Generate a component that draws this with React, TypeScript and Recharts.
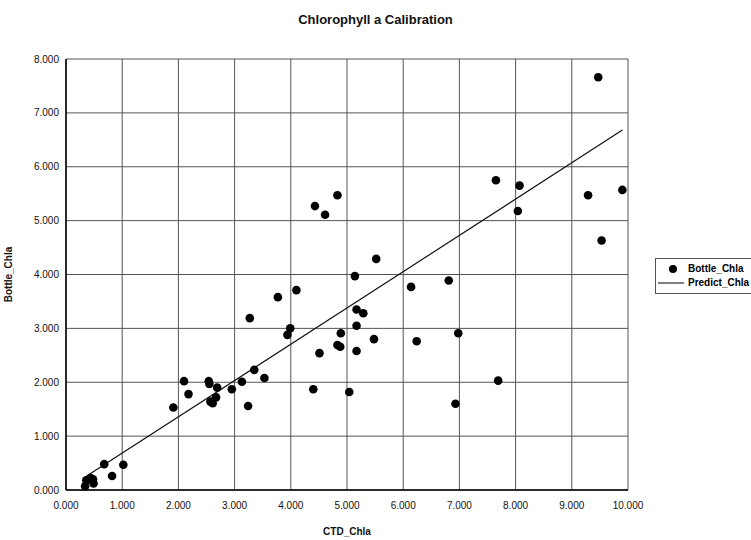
import React from 'react';
import { ScatterChart, Scatter, XAxis, YAxis, CartesianGrid } from 'recharts';

// CTD fluorescence readings vs. extracted bottle samples
const ctdChla = [
  0.34, 0.36, 0.44, 0.48, 0.49, 0.68, 0.82, 1.02, 1.91, 2.10, 2.18, 2.54, 2.55, 2.57,
  2.61, 2.67, 2.69, 2.95, 3.13, 3.24, 3.27, 3.35, 3.53, 3.77, 3.94, 3.99, 4.10, 4.40,
  4.43, 4.51, 4.61, 4.83, 4.83, 4.88, 4.89, 5.04, 5.14, 5.17, 5.17, 5.17, 5.29, 5.48,
  5.52, 6.14, 6.24, 6.81, 6.93, 6.98, 7.65, 7.69, 8.04, 8.07, 9.29, 9.47, 9.53, 9.90,
];
const bottleChla = [
  0.07, 0.18, 0.22, 0.20, 0.12, 0.48, 0.26, 0.47, 1.53, 2.02, 1.78, 2.02, 1.97, 1.64,
  1.61, 1.72, 1.90, 1.87, 2.01, 1.56, 3.19, 2.23, 2.08, 3.58, 2.88, 3.00, 3.71, 1.87,
  5.27, 2.54, 5.11, 2.69, 5.47, 2.66, 2.91, 1.82, 3.97, 3.35, 3.05, 2.58, 3.28, 2.80,
  4.29, 3.77, 2.76, 3.89, 1.60, 2.91, 5.75, 2.03, 5.18, 5.65, 5.47, 7.66, 4.63, 5.57,
];

// fitted calibration line, end points
const predictX = [0.34, 9.9];
const predictY = [0.24, 6.68];

const xTicks = [0, 1, 2, 3, 4, 5, 6, 7, 8, 9, 10];
const yTicks = [0, 1, 2, 3, 4, 5, 6, 7, 8];

const FONT = '"Liberation Sans", Arial, sans-serif';

const bottleData = ctdChla.map((x, i) => ({ x, y: bottleChla[i] }));
const predictData = predictX.map((x, i) => ({ x, y: predictY[i] }));

const Dot = (props: any) => <circle cx={props.cx} cy={props.cy} r={4.3} fill="#000" />;

const LegendBox = () => (
  <div
    style={{
      position: 'absolute',
      left: 655,
      top: 258,
      border: '1px solid #555',
      padding: '3px 0',
      width: 110,
      fontFamily: FONT,
      fontSize: 10,
      fontWeight: 'bold',
      color: '#000',
      lineHeight: '14px',
      background: '#fff',
    }}
  >
    <div style={{ display: 'flex', alignItems: 'center' }}>
      <svg width={30} height={14}>
        <circle cx={17} cy={7} r={4} fill="#000" />
      </svg>
      <span style={{ marginLeft: 2 }}>Bottle_Chla</span>
    </div>
    <div style={{ display: 'flex', alignItems: 'center' }}>
      <svg width={30} height={14}>
        <line x1={2} x2={28} y1={7} y2={7} stroke="#000" strokeWidth={1} />
      </svg>
      <span style={{ marginLeft: 2 }}>Predict_Chla</span>
    </div>
  </div>
);

export default function App() {
  return (
    <div style={{ position: 'absolute', left: 0, top: 0, width: 751, height: 540, background: '#fff', overflow: 'hidden' }}>
      <div
        style={{
          position: 'absolute',
          left: 0,
          width: 751,
          top: 12,
          textAlign: 'center',
          fontFamily: FONT,
          fontWeight: 'bold',
          fontSize: 13,
          color: '#111',
        }}
      >
        Chlorophyll a Calibration
      </div>
      <ScatterChart
        width={751}
        height={540}
        margin={{ top: 59, right: 123, bottom: 0, left: 0 }}
        style={{ fontFamily: FONT }}
      >
        <CartesianGrid stroke="#555" strokeWidth={1} />
        <XAxis
          type="number"
          dataKey="x"
          domain={[0, 10]}
          ticks={xTicks}
          height={50}
          tickLine={false}
          tickSize={4}
          tickMargin={8}
          axisLine={{ stroke: '#000', strokeWidth: 1.5 }}
          tickFormatter={(v: number) => v.toFixed(3)}
          tick={{ fontSize: 10, fill: '#111' }}
          label={{ value: 'CTD_Chla', position: 'insideBottom', offset: 5, fontSize: 10, fontWeight: 'bold', fill: '#111' }}
        />
        <YAxis
          type="number"
          dataKey="y"
          domain={[0, 8]}
          ticks={yTicks}
          width={66}
          tickLine={false}
          tickSize={3}
          tickMargin={4}
          axisLine={{ stroke: '#000', strokeWidth: 1.5 }}
          tickFormatter={(v: number) => v.toFixed(3)}
          tick={{ fontSize: 10, fill: '#111' }}
          label={{ value: 'Bottle_Chla', angle: -90, position: 'insideLeft', offset: 8, fontSize: 10, fontWeight: 'bold', fill: '#111', style: { textAnchor: 'middle' } }}
        />
        <Scatter
          name="Predict_Chla"
          data={predictData}
          line={{ stroke: '#111', strokeWidth: 1.2 }}
          shape={() => <g />}
          isAnimationActive={false}
        />
        <Scatter name="Bottle_Chla" data={bottleData} shape={Dot} isAnimationActive={false} />
      </ScatterChart>
      <LegendBox />
    </div>
  );
}
